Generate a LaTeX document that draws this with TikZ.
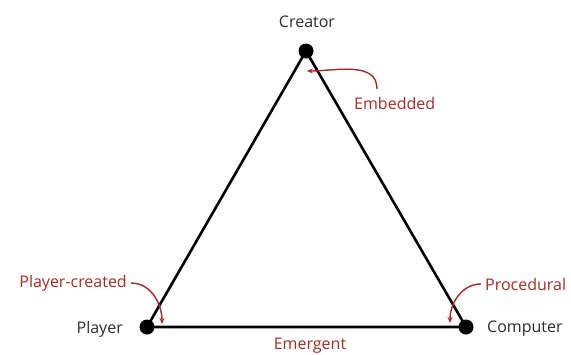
\documentclass[tikz,border=0pt]{standalone}
\usepackage{fontspec}
\setmainfont{Open Sans}
\usetikzlibrary{arrows.meta,positioning}
\definecolor{notered}{RGB}{170,40,35}
\definecolor{labelgray}{RGB}{45,45,45}

\begin{document}
\begin{tikzpicture}[
    x=1pt, y=-1pt,
    vertex/.style={circle, fill=black, inner sep=0pt, minimum size=15pt},
    corner/.style={font=\fontsize{16}{18}\selectfont, text=labelgray, inner sep=1pt},
    kind/.style={font=\fontsize{16}{18}\selectfont, text=notered, inner sep=1pt},
    note/.style={->, notered, line width=1.4pt},
    >={Stealth[length=6pt,width=5pt]}]
    \useasboundingbox (0,0) rectangle (571,354);
    \node[vertex] (creator)  at (306,51)  {};
    \node[vertex] (player)   at (147,327) {};
    \node[vertex] (computer) at (466,327) {};
    \draw[line width=2.6pt] (creator.center) -- (player.center) -- (computer.center) -- cycle;

    \node[corner] (creatorlabel)  at (307,22) {Creator};
    \node[corner, anchor=east] (playerlabel)   at (124,329) {Player};
    \node[corner, anchor=west] (computerlabel) at (486,329) {Computer};

    \node[kind, anchor=west] (embedded)   at (353,103) {Embedded};
    \node[kind, anchor=east] (pcreated)   at (128,283) {Player-created};
    \node[kind, anchor=west] (procedural) at (484,284) {Procedural};
    \node[kind] (emergent) at (310,346) {Emergent};

    % arrows onto the corners
    \coordinate (embtip)  at (307,71);
    \coordinate (pctip)   at (162,324);
    \coordinate (proctip) at (450,323);
    \draw[note] (377,89) to[out=90,in=0] (embtip);
    \draw[note] ([xshift=3pt]pcreated.east) to[out=0,in=90] (pctip);
    \draw[note] ([xshift=-3pt]procedural.west) to[out=180,in=90] (proctip);
\end{tikzpicture}
\end{document}
